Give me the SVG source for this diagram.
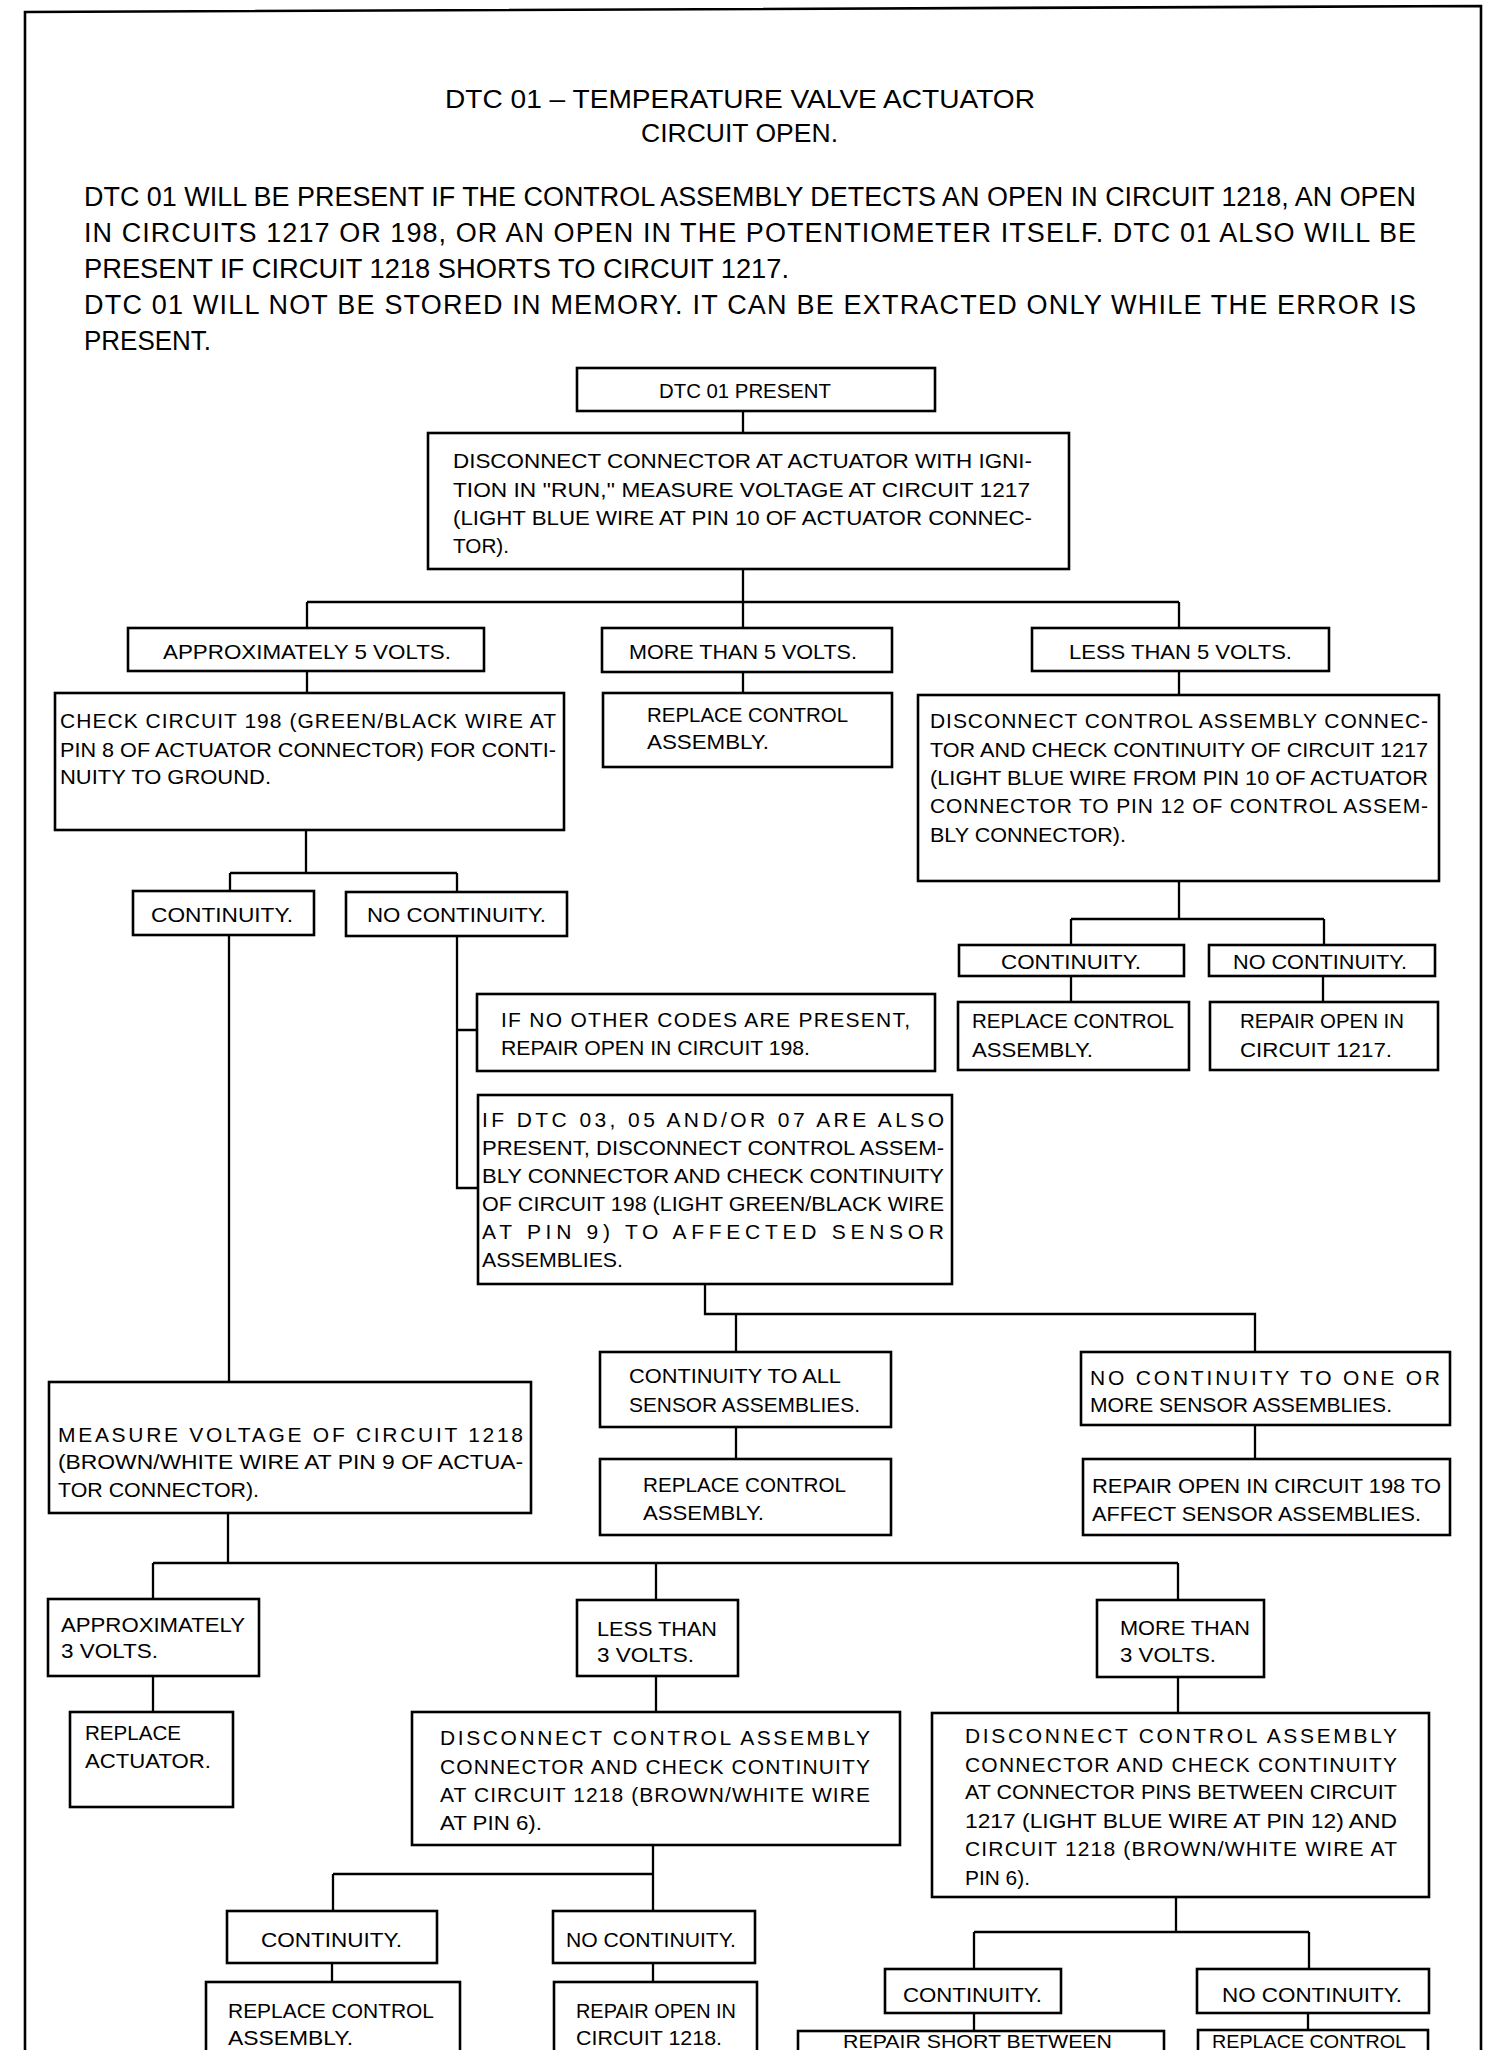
<svg xmlns="http://www.w3.org/2000/svg" width="1504" height="2050" viewBox="0 0 1504 2050">
<style>
.bg{fill:#fff}
.box{fill:#fff;stroke:#000;stroke-width:2.6}
.c{fill:none;stroke:#000;stroke-width:2.3}
.frame{fill:none;stroke:#000;stroke-width:2.6}
text{font-family:"Liberation Sans",Arial,sans-serif;fill:#000}
.t{font-size:21px}
.s{font-size:18px}
.h{font-size:25px}
.p{font-size:27px}
</style>
<rect class="bg" x="0" y="0" width="1504" height="2050"/>
<path class="frame" d="M25 2052 V12 L1481 6 V2052"/>
<g id="header">
<text class="h" x="445" y="108" textLength="590" lengthAdjust="spacingAndGlyphs">DTC 01 – TEMPERATURE VALVE ACTUATOR</text>
<text class="h" x="641" y="142" textLength="197" lengthAdjust="spacingAndGlyphs">CIRCUIT OPEN.</text>
<text class="p" x="84" y="206" textLength="1332" lengthAdjust="spacingAndGlyphs">DTC 01 WILL BE PRESENT IF THE CONTROL ASSEMBLY DETECTS AN OPEN IN CIRCUIT 1218, AN OPEN</text>
<text class="p" x="84" y="242" textLength="1332" lengthAdjust="spacing">IN CIRCUITS 1217 OR 198, OR AN OPEN IN THE POTENTIOMETER ITSELF. DTC 01 ALSO WILL BE</text>
<text class="p" x="84" y="278" textLength="705" lengthAdjust="spacingAndGlyphs">PRESENT IF CIRCUIT 1218 SHORTS TO CIRCUIT 1217.</text>
<text class="p" x="84" y="314" textLength="1332" lengthAdjust="spacing">DTC 01 WILL NOT BE STORED IN MEMORY. IT CAN BE EXTRACTED ONLY WHILE THE ERROR IS</text>
<text class="p" x="84" y="350" textLength="127" lengthAdjust="spacingAndGlyphs">PRESENT.</text>
</g>
<g id="connectors">
<path class="c" d="M743 411 V433"/>
<path class="c" d="M743 569 V602 M307 602 H1179 M307 602 V628 M743 602 V628 M1179 602 V628"/>
<path class="c" d="M307 671 V693"/>
<path class="c" d="M743 672 V693"/>
<path class="c" d="M1179 671 V695"/>
<path class="c" d="M306 830 V873 M230 873 H457 M230 873 V891 M457 873 V892"/>
<path class="c" d="M229 935 V1382"/>
<path class="c" d="M457 936 V1188 H478 M457 1030 H477"/>
<path class="c" d="M705 1284 V1314 H1255 V1352 M736 1314 V1352"/>
<path class="c" d="M736 1427 V1459"/>
<path class="c" d="M1255 1425 V1459"/>
<path class="c" d="M1179 881 V919 M1071 919 H1324 M1071 919 V945 M1324 919 V945"/>
<path class="c" d="M1071 976 V1002 M1323 976 V1002"/>
<path class="c" d="M228 1513 V1563 M153 1563 H1178 M153 1563 V1599 M656 1563 V1600 M1178 1563 V1600"/>
<path class="c" d="M153 1677 V1712"/>
<path class="c" d="M656 1676 V1712"/>
<path class="c" d="M1178 1677 V1713"/>
<path class="c" d="M653 1845 V1874 M333 1874 H653 M333 1874 V1911 M653 1874 V1911"/>
<path class="c" d="M332 1963 V1982 M653 1963 V1982"/>
<path class="c" d="M1176 1897 V1932 M974 1932 H1309 M974 1932 V1969 M1309 1932 V1969"/>
<path class="c" d="M974 2013 V2031 M1308 2013 V2030"/>
</g>
<g id="n-dtc01-present">
<rect class="box" x="577" y="368" width="358" height="43"/>
<text class="t" x="659" y="398" textLength="172" lengthAdjust="spacingAndGlyphs">DTC 01 PRESENT</text>
</g>
<g id="n-disconnect-actuator">
<rect class="box" x="428" y="433" width="641" height="136"/>
<text class="t" x="453" y="468" textLength="579" lengthAdjust="spacingAndGlyphs">DISCONNECT CONNECTOR AT ACTUATOR WITH IGNI-</text>
<text class="t" x="453" y="497" textLength="577" lengthAdjust="spacingAndGlyphs">TION IN ''RUN,'' MEASURE VOLTAGE AT CIRCUIT 1217</text>
<text class="t" x="453" y="525" textLength="579" lengthAdjust="spacingAndGlyphs">(LIGHT BLUE WIRE AT PIN 10 OF ACTUATOR CONNEC-</text>
<text class="t" x="453" y="553" textLength="56" lengthAdjust="spacingAndGlyphs">TOR).</text>
</g>
<g id="n-approx-5v">
<rect class="box" x="128" y="628" width="356" height="43"/>
<text class="t" x="163" y="659" textLength="288" lengthAdjust="spacingAndGlyphs">APPROXIMATELY 5 VOLTS.</text>
</g>
<g id="n-more-5v">
<rect class="box" x="602" y="628" width="290" height="44"/>
<text class="t" x="629" y="659" textLength="228" lengthAdjust="spacingAndGlyphs">MORE THAN 5 VOLTS.</text>
</g>
<g id="n-less-5v">
<rect class="box" x="1032" y="628" width="297" height="43"/>
<text class="t" x="1069" y="659" textLength="223" lengthAdjust="spacingAndGlyphs">LESS THAN 5 VOLTS.</text>
</g>
<g id="n-check-198">
<rect class="box" x="55" y="693" width="509" height="137"/>
<text class="t" x="60" y="728" textLength="496" lengthAdjust="spacing">CHECK CIRCUIT 198 (GREEN/BLACK WIRE AT</text>
<text class="t" x="60" y="757" textLength="496" lengthAdjust="spacingAndGlyphs">PIN 8 OF ACTUATOR CONNECTOR) FOR CONTI-</text>
<text class="t" x="60" y="784" textLength="211" lengthAdjust="spacingAndGlyphs">NUITY TO GROUND.</text>
</g>
<g id="n-replace-control-1">
<rect class="box" x="603" y="693" width="289" height="74"/>
<text class="t" x="647" y="722" textLength="201" lengthAdjust="spacingAndGlyphs">REPLACE CONTROL</text>
<text class="t" x="647" y="749" textLength="122" lengthAdjust="spacingAndGlyphs">ASSEMBLY.</text>
</g>
<g id="n-disconnect-1217">
<rect class="box" x="918" y="695" width="521" height="186"/>
<text class="t" x="930" y="728" textLength="498" lengthAdjust="spacing">DISCONNECT CONTROL ASSEMBLY CONNEC-</text>
<text class="t" x="930" y="757" textLength="498" lengthAdjust="spacingAndGlyphs">TOR AND CHECK CONTINUITY OF CIRCUIT 1217</text>
<text class="t" x="930" y="785" textLength="498" lengthAdjust="spacingAndGlyphs">(LIGHT BLUE WIRE FROM PIN 10 OF ACTUATOR</text>
<text class="t" x="930" y="813" textLength="498" lengthAdjust="spacing">CONNECTOR TO PIN 12 OF CONTROL ASSEM-</text>
<text class="t" x="930" y="842" textLength="196" lengthAdjust="spacingAndGlyphs">BLY CONNECTOR).</text>
</g>
<g id="n-continuity-1">
<rect class="box" x="133" y="891" width="181" height="44"/>
<text class="t" x="151" y="922" textLength="142" lengthAdjust="spacingAndGlyphs">CONTINUITY.</text>
</g>
<g id="n-no-continuity-1">
<rect class="box" x="346" y="892" width="221" height="44"/>
<text class="t" x="367" y="922" textLength="179" lengthAdjust="spacingAndGlyphs">NO CONTINUITY.</text>
</g>
<g id="n-continuity-2">
<rect class="box" x="959" y="945" width="225" height="31"/>
<text class="t" x="1001" y="969" textLength="140" lengthAdjust="spacingAndGlyphs">CONTINUITY.</text>
</g>
<g id="n-no-continuity-2">
<rect class="box" x="1209" y="945" width="226" height="31"/>
<text class="t" x="1233" y="969" textLength="174" lengthAdjust="spacingAndGlyphs">NO CONTINUITY.</text>
</g>
<g id="n-replace-control-2">
<rect class="box" x="958" y="1002" width="231" height="68"/>
<text class="t" x="972" y="1028" textLength="202" lengthAdjust="spacingAndGlyphs">REPLACE CONTROL</text>
<text class="t" x="972" y="1057" textLength="121" lengthAdjust="spacingAndGlyphs">ASSEMBLY.</text>
</g>
<g id="n-repair-1217">
<rect class="box" x="1210" y="1002" width="228" height="68"/>
<text class="t" x="1240" y="1028" textLength="164" lengthAdjust="spacingAndGlyphs">REPAIR OPEN IN</text>
<text class="t" x="1240" y="1057" textLength="152" lengthAdjust="spacingAndGlyphs">CIRCUIT 1217.</text>
</g>
<g id="n-if-no-other">
<rect class="box" x="477" y="994" width="458" height="77"/>
<text class="t" x="501" y="1027" textLength="409" lengthAdjust="spacing">IF NO OTHER CODES ARE PRESENT,</text>
<text class="t" x="501" y="1055" textLength="309" lengthAdjust="spacingAndGlyphs">REPAIR OPEN IN CIRCUIT 198.</text>
</g>
<g id="n-if-dtc-03">
<rect class="box" x="478" y="1095" width="474" height="189"/>
<text class="t" x="482" y="1127" textLength="462" lengthAdjust="spacing">IF DTC 03, 05 AND/OR 07 ARE ALSO</text>
<text class="t" x="482" y="1155" textLength="462" lengthAdjust="spacingAndGlyphs">PRESENT, DISCONNECT CONTROL ASSEM-</text>
<text class="t" x="482" y="1183" textLength="462" lengthAdjust="spacingAndGlyphs">BLY CONNECTOR AND CHECK CONTINUITY</text>
<text class="t" x="482" y="1211" textLength="462" lengthAdjust="spacingAndGlyphs">OF CIRCUIT 198 (LIGHT GREEN/BLACK WIRE</text>
<text class="t" x="482" y="1239" textLength="462" lengthAdjust="spacing">AT PIN 9) TO AFFECTED SENSOR</text>
<text class="t" x="482" y="1267" textLength="141" lengthAdjust="spacingAndGlyphs">ASSEMBLIES.</text>
</g>
<g id="n-continuity-all">
<rect class="box" x="600" y="1352" width="291" height="75"/>
<text class="t" x="629" y="1383" textLength="212" lengthAdjust="spacingAndGlyphs">CONTINUITY TO ALL</text>
<text class="t" x="629" y="1412" textLength="231" lengthAdjust="spacingAndGlyphs">SENSOR ASSEMBLIES.</text>
</g>
<g id="n-replace-control-3">
<rect class="box" x="600" y="1459" width="291" height="76"/>
<text class="t" x="643" y="1492" textLength="203" lengthAdjust="spacingAndGlyphs">REPLACE CONTROL</text>
<text class="t" x="643" y="1520" textLength="121" lengthAdjust="spacingAndGlyphs">ASSEMBLY.</text>
</g>
<g id="n-no-continuity-one">
<rect class="box" x="1081" y="1352" width="369" height="73"/>
<text class="t" x="1090" y="1385" textLength="350" lengthAdjust="spacing">NO CONTINUITY TO ONE OR</text>
<text class="t" x="1090" y="1412" textLength="302" lengthAdjust="spacingAndGlyphs">MORE SENSOR ASSEMBLIES.</text>
</g>
<g id="n-repair-198">
<rect class="box" x="1083" y="1459" width="367" height="76"/>
<text class="t" x="1092" y="1493" textLength="349" lengthAdjust="spacingAndGlyphs">REPAIR OPEN IN CIRCUIT 198 TO</text>
<text class="t" x="1092" y="1521" textLength="329" lengthAdjust="spacingAndGlyphs">AFFECT SENSOR ASSEMBLIES.</text>
</g>
<g id="n-measure-1218">
<rect class="box" x="49" y="1382" width="482" height="131"/>
<text class="t" x="58" y="1442" textLength="465" lengthAdjust="spacing">MEASURE VOLTAGE OF CIRCUIT 1218</text>
<text class="t" x="58" y="1469" textLength="465" lengthAdjust="spacingAndGlyphs">(BROWN/WHITE WIRE AT PIN 9 OF ACTUA-</text>
<text class="t" x="58" y="1497" textLength="201" lengthAdjust="spacingAndGlyphs">TOR CONNECTOR).</text>
</g>
<g id="n-approx-3v">
<rect class="box" x="48" y="1599" width="211" height="77"/>
<text class="t" x="61" y="1632" textLength="184" lengthAdjust="spacingAndGlyphs">APPROXIMATELY</text>
<text class="t" x="61" y="1658" textLength="97" lengthAdjust="spacingAndGlyphs">3 VOLTS.</text>
</g>
<g id="n-less-3v">
<rect class="box" x="577" y="1600" width="161" height="76"/>
<text class="t" x="597" y="1636" textLength="120" lengthAdjust="spacingAndGlyphs">LESS THAN</text>
<text class="t" x="597" y="1662" textLength="97" lengthAdjust="spacingAndGlyphs">3 VOLTS.</text>
</g>
<g id="n-more-3v">
<rect class="box" x="1097" y="1600" width="167" height="77"/>
<text class="t" x="1120" y="1635" textLength="130" lengthAdjust="spacingAndGlyphs">MORE THAN</text>
<text class="t" x="1120" y="1662" textLength="96" lengthAdjust="spacingAndGlyphs">3 VOLTS.</text>
</g>
<g id="n-replace-actuator">
<rect class="box" x="70" y="1712" width="163" height="95"/>
<text class="t" x="85" y="1740" textLength="96" lengthAdjust="spacingAndGlyphs">REPLACE</text>
<text class="t" x="85" y="1768" textLength="126" lengthAdjust="spacingAndGlyphs">ACTUATOR.</text>
</g>
<g id="n-disconnect-1218">
<rect class="box" x="412" y="1712" width="488" height="133"/>
<text class="t" x="440" y="1745" textLength="430" lengthAdjust="spacing">DISCONNECT CONTROL ASSEMBLY</text>
<text class="t" x="440" y="1774" textLength="430" lengthAdjust="spacing">CONNECTOR AND CHECK CONTINUITY</text>
<text class="t" x="440" y="1802" textLength="430" lengthAdjust="spacing">AT CIRCUIT 1218 (BROWN/WHITE WIRE</text>
<text class="t" x="440" y="1830" textLength="102" lengthAdjust="spacingAndGlyphs">AT PIN 6).</text>
</g>
<g id="n-disconnect-pins">
<rect class="box" x="932" y="1713" width="497" height="184"/>
<text class="t" x="965" y="1743" textLength="432" lengthAdjust="spacing">DISCONNECT CONTROL ASSEMBLY</text>
<text class="t" x="965" y="1772" textLength="432" lengthAdjust="spacing">CONNECTOR AND CHECK CONTINUITY</text>
<text class="t" x="965" y="1799" textLength="432" lengthAdjust="spacingAndGlyphs">AT CONNECTOR PINS BETWEEN CIRCUIT</text>
<text class="t" x="965" y="1828" textLength="432" lengthAdjust="spacingAndGlyphs">1217 (LIGHT BLUE WIRE AT PIN 12) AND</text>
<text class="t" x="965" y="1856" textLength="432" lengthAdjust="spacing">CIRCUIT 1218 (BROWN/WHITE WIRE AT</text>
<text class="t" x="965" y="1885" textLength="65" lengthAdjust="spacingAndGlyphs">PIN 6).</text>
</g>
<g id="n-continuity-3">
<rect class="box" x="227" y="1911" width="210" height="52"/>
<text class="t" x="261" y="1947" textLength="141" lengthAdjust="spacingAndGlyphs">CONTINUITY.</text>
</g>
<g id="n-no-continuity-3">
<rect class="box" x="553" y="1911" width="202" height="52"/>
<text class="t" x="566" y="1947" textLength="170" lengthAdjust="spacingAndGlyphs">NO CONTINUITY.</text>
</g>
<g id="n-replace-control-4">
<rect class="box" x="206" y="1982" width="254" height="80"/>
<text class="t" x="228" y="2018" textLength="206" lengthAdjust="spacingAndGlyphs">REPLACE CONTROL</text>
<text class="t" x="228" y="2045" textLength="125" lengthAdjust="spacingAndGlyphs">ASSEMBLY.</text>
</g>
<g id="n-repair-1218">
<rect class="box" x="554" y="1982" width="203" height="80"/>
<text class="t" x="576" y="2018" textLength="160" lengthAdjust="spacingAndGlyphs">REPAIR OPEN IN</text>
<text class="t" x="576" y="2045" textLength="146" lengthAdjust="spacingAndGlyphs">CIRCUIT 1218.</text>
</g>
<g id="n-continuity-4">
<rect class="box" x="885" y="1969" width="176" height="44"/>
<text class="t" x="903" y="2002" textLength="139" lengthAdjust="spacingAndGlyphs">CONTINUITY.</text>
</g>
<g id="n-no-continuity-4">
<rect class="box" x="1197" y="1969" width="232" height="44"/>
<text class="t" x="1222" y="2002" textLength="180" lengthAdjust="spacingAndGlyphs">NO CONTINUITY.</text>
</g>
<g id="n-repair-short">
<rect class="box" x="798" y="2031" width="366" height="40"/>
<text class="s" x="843" y="2048" textLength="269" lengthAdjust="spacingAndGlyphs">REPAIR SHORT BETWEEN</text>
</g>
<g id="n-replace-control-5">
<rect class="box" x="1198" y="2030" width="230" height="40"/>
<text class="s" x="1212" y="2048" textLength="194" lengthAdjust="spacingAndGlyphs">REPLACE CONTROL</text>
</g>
</svg>
